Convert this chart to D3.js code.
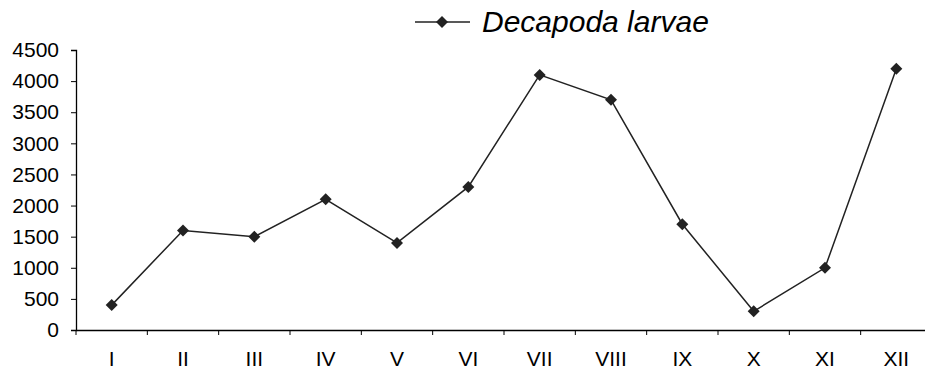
<!DOCTYPE html>
<html><head><meta charset="utf-8">
<script src="https://cdn.jsdelivr.net/npm/d3@7/dist/d3.min.js"></script>
<style>body{margin:0;background:#fff}svg{display:block}text{font-family:"Liberation Sans",Arial,sans-serif}</style>
</head><body>
<script>
const months = ["I","II","III","IV","V","VI","VII","VIII","IX","X","XI","XII"];
const values = [400,1600,1500,2100,1400,2300,4100,3700,1700,300,1000,4200];
const yTicks = [0,500,1000,1500,2000,2500,3000,3500,4000,4500];
const seriesName = "Decapoda larvae";

const W=925,H=372;
const svg=d3.select("body").append("svg").attr("width",W).attr("height",H);
const x=d3.scaleBand().domain(months).range([76,932]);
const y=d3.scaleLinear().domain([0,4500]).range([330,50]);

const yAxis=svg.append("g").attr("transform","translate(76,0)")
  .call(d3.axisLeft(y).tickValues(yTicks).tickSize(5).tickPadding(12).tickFormat(d3.format("d")));
yAxis.select(".domain").attr("stroke","#000").attr("stroke-width",1.3);
yAxis.selectAll("text").attr("font-size",21).attr("fill","#000");

const xAxis=svg.append("g").attr("transform","translate(0,330)")
  .call(d3.axisBottom(x).tickSize(5).tickPadding(16).tickSizeOuter(0));
xAxis.select(".domain").attr("stroke","#000").attr("stroke-width",1.3);
xAxis.selectAll(".tick line").attr("transform",d=>`translate(${-x.bandwidth()/2},0)`);
xAxis.selectAll("text").attr("font-size",21).attr("fill","#000");
xAxis.append("line").attr("x1",932).attr("x2",932).attr("y1",0).attr("y2",5).attr("stroke","#000");

const cx=d=>x(d)+x.bandwidth()/2;
const line=d3.line().x((d,i)=>cx(months[i])).y(d=>y(d));
svg.append("path").datum(values).attr("d",line).attr("fill","none").attr("stroke","#222").attr("stroke-width",1.5);
svg.selectAll(".pt").data(values).join("path").attr("class","pt")
  .attr("d",d3.symbol().type(d3.symbolSquare).size(72)())
  .attr("transform",(d,i)=>`translate(${cx(months[i])},${y(d)}) rotate(45)`)
  .attr("fill","#222");

// legend
const lg=svg.append("g");
lg.append("line").attr("x1",415).attr("x2",470).attr("y1",22).attr("y2",22).attr("stroke","#222").attr("stroke-width",1.5);
lg.append("path").attr("d",d3.symbol().type(d3.symbolSquare).size(72)()).attr("transform","translate(442,22) rotate(45)").attr("fill","#222");
lg.append("text").attr("x",482).attr("y",32).attr("font-size",30).attr("font-style","italic").attr("fill","#000").text(seriesName);
</script>
</body></html>
